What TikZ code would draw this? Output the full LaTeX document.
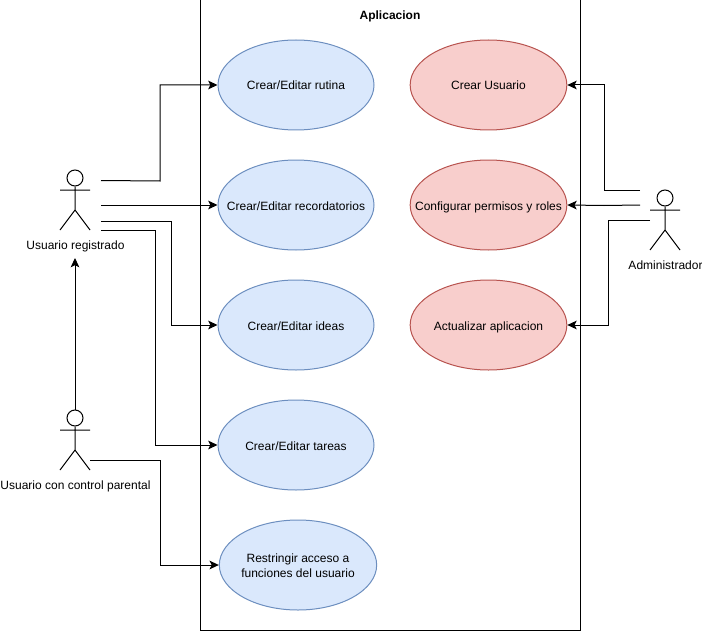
\documentclass[tikz,border=0pt]{standalone}
\usepackage{fontspec}
\setmainfont{Liberation Sans}
\usetikzlibrary{arrows.meta,shapes.geometric}
\definecolor{bluefill}{HTML}{DAE8FC}
\definecolor{blue6c}{HTML}{6C8EBF}
\definecolor{redfill}{HTML}{F8CECC}
\definecolor{red85}{HTML}{B85450}
\tikzset{
  x=0.75pt,y=-0.75pt,
  every node/.style={font=\fontsize{9}{11.25}\selectfont,text=black},
  every label/.style={align=center,inner sep=0pt},
  onetext/.style={text height=7.5pt,text depth=1.5pt,yshift=-0.75pt},
  blueuse/.style={ellipse,draw=blue6c,fill=bluefill,line width=0.75pt,minimum width=117pt,minimum height=67.5pt,inner sep=0pt},
  reduse/.style={ellipse,draw=red85,fill=redfill,line width=0.75pt,minimum width=117.5pt,minimum height=67.5pt,inner sep=0pt},
  head/.style={circle,draw=black,line width=0.75pt,minimum size=12pt,inner sep=0pt},
  limb/.style={draw=black,line width=0.75pt},
  conn/.style={draw=black,line width=0.75pt,-{Stealth[length=7pt,width=6.5pt,inset=1.6pt]}},
  actorlabel/.style={inner sep=0pt,anchor=base},
}
\begin{document}
\begin{tikzpicture}
\useasboundingbox (0,0) rectangle (702,631);
\node[draw=black,line width=0.75pt,minimum width=285pt,minimum height=472.5pt,inner sep=0pt] (sys) at (390,315) {};
\node[font=\fontsize{9}{11.25}\selectfont\bfseries,text=black,inner sep=0pt,anchor=base] (title) at (390,20) {Aplicacion};

\node[blueuse,label={[onetext]center:Crear/Editar rutina}] (u1) at (296,85) {};
\node[blueuse,label={[onetext]center:Crear/Editar recordatorios}] (u2) at (296,205) {};
\node[blueuse,label={[onetext]center:Crear/Editar ideas}] (u3) at (296,325) {};
\node[blueuse,label={[onetext]center:Crear/Editar tareas}] (u4) at (296,445) {};
\node[blueuse,minimum width=118pt,label={[yshift=-0.6pt]center:Restringir acceso a\\funciones del usuario}] (u5) at (298,565) {};
\node[reduse,label={[onetext]center:Crear Usuario}] (r1) at (488.5,85) {};
\node[reduse,label={[onetext]center:Configurar permisos y roles}] (r2) at (488.5,205) {};
\node[reduse,label={[onetext]center:Actualizar aplicacion}] (r3) at (488.5,325) {};

% actors
\node[head] (ah) at (75,178) {};
\draw[limb] (ah.south) -- (75,210) (60,190) -- (90,190) (60,230) -- (75,210) -- (90,230);
\node[actorlabel] (al) at (75.5,249) {Usuario registrado};
\node[head] (bh) at (75,418) {};
\draw[limb] (bh.south) -- (75,450) (60,430) -- (90,430) (60,470) -- (75,450) -- (90,470);
\node[actorlabel] (bl) at (75.5,489) {Usuario con control parental};
\node[head] (ch) at (665,198) {};
\draw[limb] (ch.south) -- (665,230) (650,210) -- (680,210) (650,250) -- (665,230) -- (680,250);
\node[actorlabel] (cl) at (665.5,269) {Administrador};

% free ends
\coordinate (a1) at (101,180.5);
\coordinate (a2) at (101,205);
\coordinate (a3) at (101,221);
\coordinate (a4) at (101,230);
\coordinate (b1) at (90,460.5);
\coordinate (c1) at (640,190);
\coordinate (c2) at (640,205);
\coordinate (c3) at (650,220);
\coordinate (alb) at (75,258);

\draw[conn] (a1) -- (160,181) -- (160,85) -- (u1.west);
\draw[conn] (a2) -- (u2.west);
\draw[conn] (a3) -- (171,221) -- (171,325) -- (u3.west);
\draw[conn] (a4) -- (155,230) -- (155,445) -- (u4.west);
\draw[conn] (bh.north) -- (alb);
\draw[conn] (b1) -- (160,460.5) -- (160,565) -- (u5.west);
\draw[conn] (c1) -- (604,190) -- (604,85) -- (r1.east);
\draw[conn] (c2) -- (604,205.5) -- (r2.east);
\draw[conn] (c3) -- (608.5,220) -- (608.5,325) -- (r3.east);
\end{tikzpicture}
\end{document}
